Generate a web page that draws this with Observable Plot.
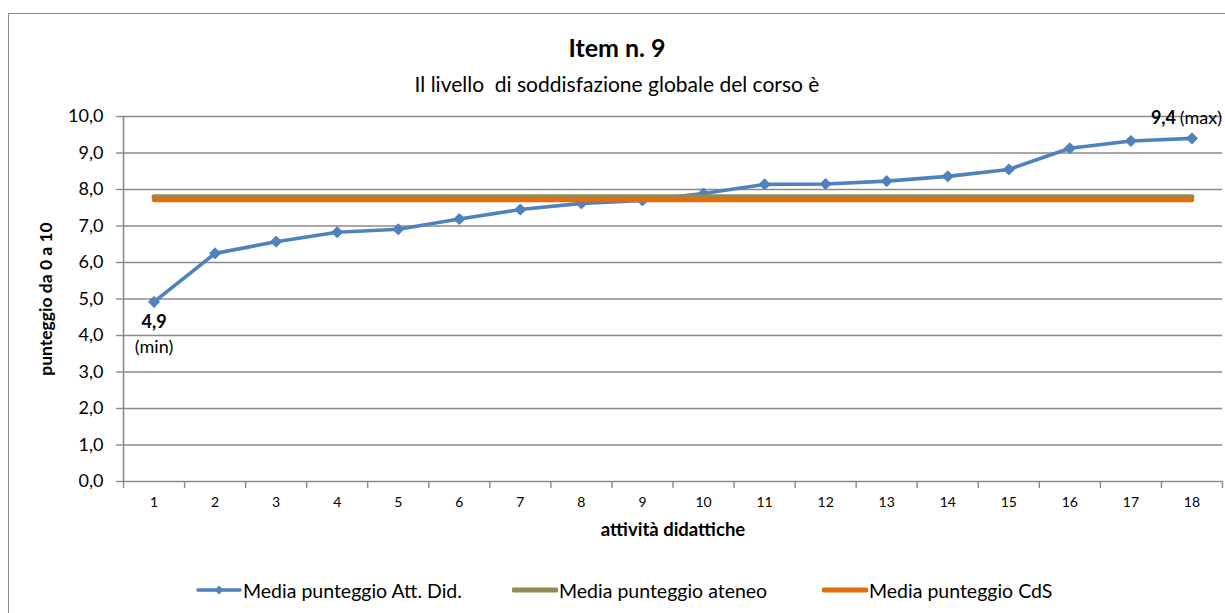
<!DOCTYPE html>
<html>
<head>
<meta charset="utf-8">
<script src="https://cdn.jsdelivr.net/npm/d3@7"></script>
<script src="https://cdn.jsdelivr.net/npm/@observablehq/plot@0.6"></script>
<style>
  html, body { margin: 0; padding: 0; background: #fff; }
  body { font-family: Lato, "Open Sans", sans-serif; color: #000; }
  #wrap { position: relative; width: 1225px; height: 613px; overflow: hidden; }
  #frame { position: absolute; left: 8px; top: 13px; width: 1400px; height: 800px;
           border-left: 1.5px solid #8c8c8c; border-top: 1.5px solid #8c8c8c; box-sizing: border-box; }
  #chart { position: absolute; left: 0; top: 0; }
  .title { position: absolute; left: 0; width: 1234px; text-align: center; white-space: pre; }
  #t1 { top: 32px; font-size: 25px; font-weight: bold; line-height: 30px; }
  #t2 { top: 71px; font-size: 21px; line-height: 26px; }
  .leg { position: absolute; top: 578px; height: 24px; display: flex; align-items: center; font-size: 19.5px; white-space: pre; }
  .leg svg { margin-right: 1px; }
</style>
</head>
<body>
<div id="wrap">
  <div id="frame"></div>
  <div id="chart"></div>
  <div class="title" id="t1"></div>
  <div class="title" id="t2"></div>
  <div id="legend"></div>
</div>
<script>
// ---- data ----
const titleText = "Item n. 9";
const subtitleText = "Il livello  di soddisfazione globale del corso è";
const activities = [1, 2, 3, 4, 5, 6, 7, 8, 9, 10, 11, 12, 13, 14, 15, 16, 17, 18];
const mediaAttDid = [4.92, 6.25, 6.57, 6.83, 6.91, 7.19, 7.45, 7.62, 7.70, 7.89, 8.14, 8.15, 8.23, 8.36, 8.55, 9.13, 9.33, 9.40];
const mediaAteneo = 7.80;
const mediaCdS = 7.71;
const yTicks = [0, 1, 2, 3, 4, 5, 6, 7, 8, 9, 10];
const seriesNames = ["Media punteggio Att. Did.", "Media punteggio ateneo", "Media punteggio CdS"];
const seriesColors = ["#4F81BD", "#948A54", "#E46C0A"];
const minLabel = "4,9", minNote = "(min)";
const maxLabel = "9,4", maxNote = "(max)";
const xTitle = "attività didattiche";
const yTitle = "punteggio da 0 a 10";

// ---- tables ----
const attData = activities.map((a, i) => ({a, v: mediaAttDid[i]}));
const ateneoData = activities.map(a => ({a, v: mediaAteneo}));
const cdsData = activities.map(a => ({a, v: mediaCdS}));
const bounds = [0, ...activities].map(a => a + 0.5);
const iMin = mediaAttDid.indexOf(d3.min(mediaAttDid));
const iMax = mediaAttDid.indexOf(d3.max(mediaAttDid));
const fmt = v => v.toFixed(1).replace(".", ",");
const grid = "#8a8a8a";
const font = "Lato, 'Open Sans', sans-serif";

const chart = Plot.plot({
  width: 1225,
  height: 613,
  marginLeft: 123,
  marginRight: 3,
  marginTop: 116,
  marginBottom: 132,
  style: {fontFamily: font, background: "transparent", color: "#000"},
  x: {domain: [0.5, 18.5]},
  y: {domain: [0, 10]},
  marks: [
    Plot.ruleY(yTicks.filter(t => t > 0), {stroke: grid, strokeWidth: 1.4}),
    Plot.axisY({ticks: yTicks, tickFormat: fmt, tickSize: 7, tickPadding: 13, fontSize: 18, stroke: grid, strokeWidth: 1.4, label: null}),
    Plot.axisX({ticks: bounds, tickSize: 7, tickFormat: () => "", stroke: grid, strokeWidth: 1.4, label: null}),
    Plot.axisX({ticks: activities, tickSize: 0, tickPadding: 16, fontSize: 14, tickFormat: d => String(d), label: null}),
    Plot.ruleX([0.5], {stroke: grid, strokeWidth: 1.6}),
    Plot.ruleY([0], {stroke: grid, strokeWidth: 1.6}),
    Plot.line(attData, {x: "a", y: "v", stroke: seriesColors[0], strokeWidth: 3.6}),
    Plot.dot(attData, {x: "a", y: "v", symbol: "diamond2", r: 5, fill: seriesColors[0], stroke: seriesColors[0], strokeWidth: 1}),
    Plot.line(ateneoData, {x: "a", y: "v", stroke: seriesColors[1], strokeWidth: 5}),
    Plot.line(cdsData, {x: "a", y: "v", stroke: seriesColors[2], strokeWidth: 4.5}),
    Plot.text([attData[iMin]], {x: "a", y: "v", text: () => minLabel, dy: 20, fontSize: 18, fontWeight: "bold"}),
    Plot.text([attData[iMin]], {x: "a", y: "v", text: () => minNote, dy: 45, fontSize: 18}),
    Plot.text([attData[iMax]], {x: "a", y: "v", text: () => maxLabel, dy: -20, dx: -16, textAnchor: "end", fontSize: 18, fontWeight: "bold"}),
    Plot.text([attData[iMax]], {x: "a", y: "v", text: () => maxNote, dy: -20, dx: 30, textAnchor: "end", fontSize: 18}),
    Plot.text([xTitle], {frameAnchor: "bottom", dy: 54, fontSize: 18.5, fontWeight: "bold"}),
    Plot.text([yTitle], {frameAnchor: "left", textAnchor: "middle", dx: -77, rotate: -90, fontSize: 17.5, fontWeight: "bold"})
  ]
});
document.getElementById("chart").appendChild(chart);
document.getElementById("t1").textContent = titleText;
document.getElementById("t2").textContent = subtitleText;

// legend
const legendLeft = [196, 512, 822];
const legend = document.getElementById("legend");
seriesNames.forEach((name, i) => {
  const item = document.createElement("div");
  item.className = "leg";
  item.style.left = legendLeft[i] + "px";
  const w = 46;
  let sw = `<svg width="${w}" height="14"><line x1="2" x2="${w - 2}" y1="7" y2="7" stroke="${seriesColors[i]}" stroke-width="${i === 0 ? 3.6 : 5}" stroke-linecap="round"/>`;
  if (i === 0) sw += `<path d="M${w/2} 2.5 L${w/2 + 4.5} 7 L${w/2} 11.5 L${w/2 - 4.5} 7Z" fill="${seriesColors[i]}"/>`;
  sw += `</svg>`;
  item.innerHTML = sw + `<span>${name}</span>`;
  legend.appendChild(item);
});
</script>
</body>
</html>
